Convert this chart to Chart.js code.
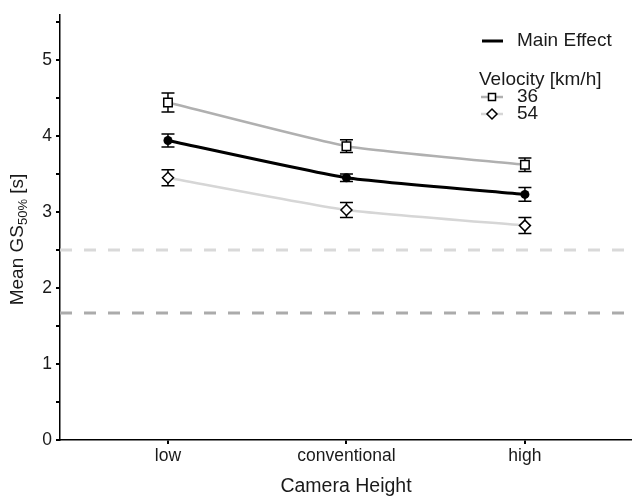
<!DOCTYPE html>
<html>
<head>
<meta charset="utf-8">
<script src="https://cdn.jsdelivr.net/npm/chart.js@4/dist/chart.umd.min.js"></script>
<style>
  html, body { margin: 0; padding: 0; background: #fff; }
  canvas { display: block; }
</style>
</head>
<body>
<canvas id="chart" width="632" height="496"></canvas>
<script>
// Data
const categories = ['low', 'conventional', 'high'];
const mainEffect = [3.94, 3.45, 3.23];
const mainErr = [0.085, 0.05, 0.09];
const v36 = [4.44, 3.865, 3.62];
const v36Err = [0.125, 0.085, 0.09];
const v54 = [3.45, 3.025, 2.82];
const v54Err = [0.105, 0.1, 0.105];
const refLines = [2.5, 1.67];
const yTicks = [0, 0.5, 1, 1.5, 2, 2.5, 3, 3.5, 4, 4.5, 5, 5.5];

const X_MIN = -0.605, X_MAX = 2.6;
const FONT = '"Liberation Sans", Arial, sans-serif';
const TEXT = '#1a1a1a';

const toPoints = vals => vals.map((v, i) => ({ x: i, y: v }));
const refLine = y => [{ x: X_MIN, y: y }, { x: X_MAX, y: y }];

// error bars drawn right before each dataset, so markers sit on top
const errorBars = {
    id: 'errorBars',
    beforeDatasetDraw(chart, args) {
        const ds = chart.data.datasets[args.index];
        if (!ds.errors) return;
        const { ctx, scales: { x, y } } = chart;
        ctx.save();
        ctx.strokeStyle = '#000';
        ctx.lineWidth = 1.5;
        ds.data.forEach((p, i) => {
            const px = x.getPixelForValue(p.x);
            const top = y.getPixelForValue(p.y + ds.errors[i]);
            const bot = y.getPixelForValue(p.y - ds.errors[i]);
            ctx.beginPath();
            ctx.moveTo(px, top); ctx.lineTo(px, bot);
            ctx.moveTo(px - 6.5, top); ctx.lineTo(px + 6.5, top);
            ctx.moveTo(px - 6.5, bot); ctx.lineTo(px + 6.5, bot);
            ctx.stroke();
        });
        ctx.restore();
    }
};

// y title with subscript + custom legend
const extras = {
    id: 'extras',
    afterDraw(chart) {
        const ctx = chart.ctx;
        const area = chart.chartArea;
        ctx.save();
        ctx.fillStyle = TEXT;
        ctx.textBaseline = 'middle';

        // y axis title
        const big = '19px ' + FONT, small = '13px ' + FONT;
        const parts = [['Mean GS', big, 0], ['50%', small, 5], [' [s]', big, 0]];
        let total = 0;
        parts.forEach(p => { ctx.font = p[1]; total += ctx.measureText(p[0]).width; });
        ctx.translate(18, (area.top + area.bottom) / 2 + 12);
        ctx.rotate(-Math.PI / 2);
        let cx = -total / 2;
        ctx.textAlign = 'left';
        parts.forEach(p => {
            ctx.font = p[1];
            ctx.fillText(p[0], cx, p[2]);
            cx += ctx.measureText(p[0]).width;
        });
        ctx.setTransform(1, 0, 0, 1, 0, 0);

        // legend
        ctx.font = '19px ' + FONT;
        ctx.lineWidth = 3;
        ctx.strokeStyle = '#000';
        ctx.beginPath(); ctx.moveTo(482, 41); ctx.lineTo(503, 41); ctx.stroke();
        ctx.fillText('Main Effect', 517, 41);

        ctx.fillText('Velocity [km/h]', 479, 80);

        ctx.lineWidth = 2.5;
        ctx.strokeStyle = '#b0b0b0';
        ctx.beginPath(); ctx.moveTo(481, 97); ctx.lineTo(503, 97); ctx.stroke();
        ctx.fillStyle = '#fff'; ctx.strokeStyle = '#000'; ctx.lineWidth = 1.5;
        ctx.fillRect(488.5, 93.5, 7, 7); ctx.strokeRect(488.5, 93.5, 7, 7);
        ctx.fillStyle = TEXT;
        ctx.fillText('36', 517, 97);

        ctx.lineWidth = 2.5;
        ctx.strokeStyle = '#d6d6d6';
        ctx.beginPath(); ctx.moveTo(481, 114); ctx.lineTo(503, 114); ctx.stroke();
        ctx.fillStyle = '#fff'; ctx.strokeStyle = '#000'; ctx.lineWidth = 1.5;
        ctx.beginPath();
        ctx.moveTo(492, 109); ctx.lineTo(497, 114); ctx.lineTo(492, 119); ctx.lineTo(487, 114);
        ctx.closePath(); ctx.fill(); ctx.stroke();
        ctx.fillStyle = TEXT;
        ctx.fillText('54', 517, 114);
        ctx.restore();
    }
};

const chart = new Chart(document.getElementById('chart'), {
    type: 'line',
    data: {
        datasets: [
            {
                data: refLine(refLines[0]),
                borderColor: '#d9d9d9', borderWidth: 3, borderDash: [12, 12],
                pointRadius: 0
            },
            {
                data: refLine(refLines[1]),
                borderColor: '#ababab', borderWidth: 3, borderDash: [12, 12],
                pointRadius: 0
            },
            {
                data: toPoints(v54), errors: v54Err,
                borderColor: '#d6d6d6', borderWidth: 2.5,
                tension: 0.15,
                pointStyle: 'rectRot', pointRadius: 5.5,
                pointBackgroundColor: '#fff', pointBorderColor: '#000', pointBorderWidth: 1.5
            },
            {
                data: toPoints(v36), errors: v36Err,
                borderColor: '#b0b0b0', borderWidth: 2.5,
                tension: 0.15,
                pointStyle: 'rect', pointRadius: 6,
                pointBackgroundColor: '#fff', pointBorderColor: '#000', pointBorderWidth: 1.5
            },
            {
                data: toPoints(mainEffect), errors: mainErr,
                borderColor: '#000', borderWidth: 3,
                tension: 0.15,
                pointStyle: 'circle', pointRadius: 4.5,
                pointBackgroundColor: '#000', pointBorderColor: '#000', pointBorderWidth: 0
            }
        ]
    },
    options: {
        responsive: false,
        devicePixelRatio: 1,
        animation: false,
        layout: { autoPadding: false, padding: { top: 15, right: 0, left: 0, bottom: 0 } },
        plugins: {
            legend: { display: false },
            tooltip: { enabled: false }
        },
        scales: {
            x: {
                type: 'linear',
                min: X_MIN,
                max: X_MAX,
                afterBuildTicks: s => { s.ticks = categories.map((c, i) => ({ value: i })); },
                afterFit: s => { s.height = 56; s.paddingLeft = 0; s.paddingRight = 0; },
                grid: { drawOnChartArea: false, tickLength: 4, color: '#000', lineWidth: 2 },
                border: { color: '#000', width: 1.5 },
                ticks: {
                    autoSkip: false, maxRotation: 0, padding: 2,
                    color: TEXT, font: { family: FONT, size: 17.5 },
                    callback: v => categories[v] ?? ''
                },
                title: {
                    display: true, text: 'Camera Height', color: TEXT,
                    font: { family: FONT, size: 19.5, lineHeight: 1 },
                    padding: { top: 0, bottom: 0 }
                }
            },
            y: {
                min: 0,
                max: 5.59,
                afterBuildTicks: s => { s.ticks = yTicks.map(v => ({ value: v })); },
                afterFit: s => { s.width = 60; s.paddingTop = 0; s.paddingBottom = 0; },
                grid: { drawOnChartArea: false, tickLength: 4, color: '#000', lineWidth: 2 },
                border: { color: '#000', width: 1.5 },
                ticks: {
                    autoSkip: false, padding: 4,
                    color: TEXT, font: { family: FONT, size: 17.5 },
                    callback: v => Number.isInteger(v) ? v : ''
                }
            }
        }
    },
    plugins: [errorBars, extras]
});
</script>
</body>
</html>
